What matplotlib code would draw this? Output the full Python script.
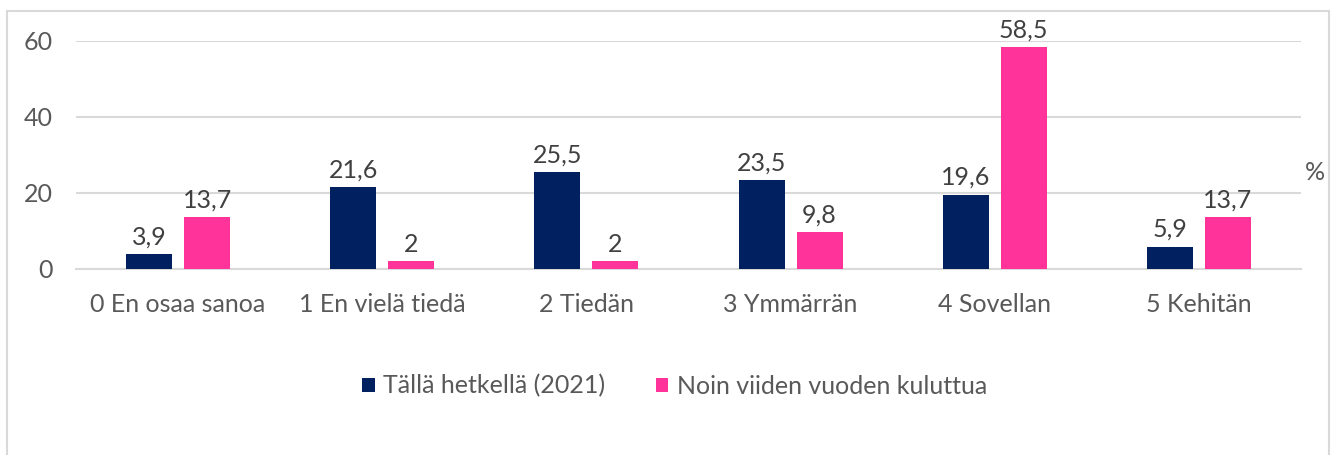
import numpy as np
import matplotlib
matplotlib.use('Agg')
import matplotlib.pyplot as plt
from matplotlib.patches import Rectangle

categories = ['0 En osaa sanoa', '1 En vielä tiedä', '2 Tiedän', '3 Ymmärrän', '4 Sovellan', '5 Kehitän']
now_vals = [3.9, 21.6, 25.5, 23.5, 19.6, 5.9]
future_vals = [13.7, 2, 2, 9.8, 58.5, 13.7]
series_names = ['Tällä hetkellä (2021)', 'Noin viiden vuoden kuluttua']
yticks = [0, 20, 40, 60]

navy = '#002060'
pink = '#FF3399'
txt = '#595959'
grid = '#D9D9D9'

plt.rcParams['font.family'] = ['Lato', 'DejaVu Sans']
fs = 18

fig = plt.figure(figsize=(13.36, 4.55), dpi=100)
ax = fig.add_axes([76/1336, 1-269/455, (1301-76)/1336, (269-41)/455])

# chart border like the excel frame
fig.patches.append(Rectangle((7/1336, -0.05), (1329-7)/1336, 1.05-11/455,
                             transform=fig.transFigure, fill=False,
                             edgecolor=grid, linewidth=1.5))

x = np.arange(len(categories))
w = 46/204.2
gap = 12/204.2
b1 = ax.bar(x - (w+gap)/2, now_vals, w, color=navy, label=series_names[0], zorder=3)
b2 = ax.bar(x + (w+gap)/2, future_vals, w, color=pink, label=series_names[1], zorder=3)

def fmt(v):
    s = ('%g' % v).replace('.', ',')
    return s

for bars, vals in [(b1, now_vals), (b2, future_vals)]:
    for r, v in zip(bars, vals):
        ax.annotate(fmt(v), (r.get_x()+r.get_width()/2, v), xytext=(0, 4),
                    textcoords='offset points', ha='center', va='bottom',
                    fontsize=fs, color='#404040', annotation_clip=False)

ax.set_xlim(-0.5, len(categories)-0.5)
ax.set_ylim(0, 60)
ax.set_yticks(yticks)
ax.set_xticks(x)
ax.set_xticklabels(categories)
ax.yaxis.grid(True, color=grid, linewidth=1.5, zorder=0)
ax.set_axisbelow(True)
for s in ['top', 'right', 'left']:
    ax.spines[s].set_visible(False)
ax.spines['bottom'].set_color(grid)
ax.spines['bottom'].set_linewidth(1.5)
ax.tick_params(axis='both', length=0, labelsize=fs, colors=txt)
ax.tick_params(axis='x', pad=17)
ax.tick_params(axis='y', pad=17)

fig.text(1305/1336, 1-173/455, '%', fontsize=fs, color=txt, ha='left', va='center')

leg = fig.legend(loc='center', bbox_to_anchor=(0.505, 1-386/455), ncol=2, frameon=False,
                 fontsize=fs, handlelength=0.5, handleheight=0.5, handletextpad=0.35,
                 columnspacing=2.0)
for t in leg.get_texts():
    t.set_color(txt)

fig.savefig('out.png', dpi=100)
